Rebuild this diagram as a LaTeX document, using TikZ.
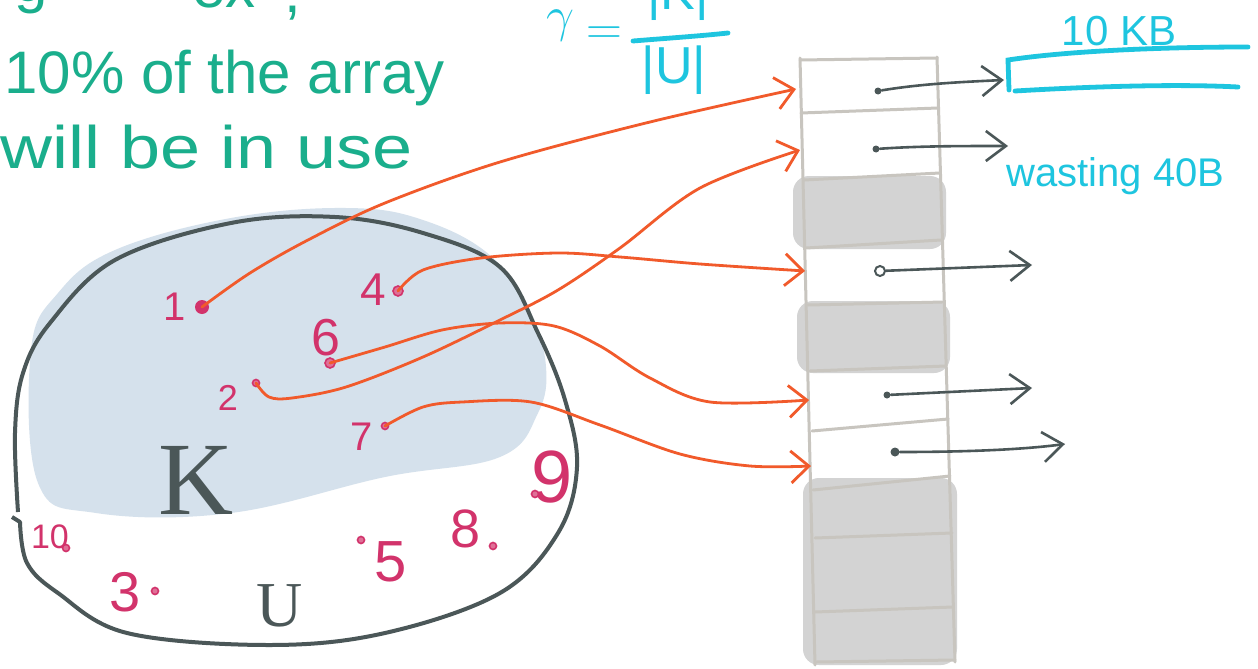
\documentclass[tikz,border=0pt]{standalone}
\usepackage{fontspec}
\setmainfont{Liberation Sans}
\newfontfamily\serifK{Liberation Serif}
\usetikzlibrary{arrows.meta}
\definecolor{grn}{HTML}{1AAE8C}
\definecolor{cyn}{HTML}{1EC5DF}
\definecolor{mag}{HTML}{D2336B}
\definecolor{org}{HTML}{F15A2B}
\definecolor{slate}{HTML}{4B5758}
\definecolor{kblue}{HTML}{D5E1EC}
\definecolor{cellgray}{HTML}{D3D3D3}
\definecolor{linegray}{HTML}{C8C5BF}
\tikzset{
  greentext/.style={text=grn, inner sep=0, anchor=base west, font=\fontsize{30}{30}\selectfont},
  cyantext/.style={text=cyn, inner sep=0, font=\fontsize{21}{21}\selectfont},
  num/.style={text=mag, inner sep=0},
  bigdot/.style={circle, fill=mag, inner sep=0, minimum size=7pt},
  smalldot/.style={circle, draw=mag, fill=mag!70, line width=0.8pt, inner sep=0, minimum size=3.5pt},
  pdot/.style={circle, fill=slate, inner sep=0, minimum size=3.5pt},
  oarrow/.style={draw=org, line width=1.4pt, line cap=round, -{Straight Barb[length=9pt,width=16pt,line width=1.4pt]}},
  parrow/.style={draw=slate, line width=1.3pt, line cap=round, -{Straight Barb[length=10pt,width=15pt,line width=1.3pt]}},
  gridline/.style={draw=linegray, line width=1.5pt, line cap=round},
  cyanline/.style={draw=cyn, line width=2.4pt, line cap=round},
  graycell/.style={fill=cellgray, rounded corners=8pt}
}
\begin{document}
\begin{tikzpicture}[x=0.5pt,y=-0.5pt]
\clip (0,0) rectangle (1258,669);
\fill[white] (0,0) rectangle (1258,669);

% ---- green text (top line is cut by the edge) ----
\node[greentext] (g0) at (14,2) {g};
\node[greentext] (g1) at (192,8) {ex};
\node[greentext] (g2) at (284,12) {,};
\node[greentext] (g3) at (335,0) {e};
\node[greentext] (t1) at (4,93) {10\% of the array};
\node[greentext, xscale=1.2] (t2) at (0,168) {will be in use};

% ---- gamma formula ----
\node[text=cyn, inner sep=0] (gam) at (560,26) {\fontsize{40}{40}\selectfont$\gamma$};
\node[text=cyn, inner sep=0] (eq) at (604,36) {\fontsize{30}{30}\selectfont$=$};
\node[text=cyn, inner sep=0, font=\fontsize{26}{26}\selectfont] (numk) at (678,-4) {|K|};
\node[text=cyn, inner sep=0, font=\fontsize{26}{26}\selectfont] (denu) at (674,70) {|U|};
\draw[cyanline] (633,41) .. controls (670,38) and (700,36) .. (728,33);

% ---- K region and U set ----
\fill[kblue] plot[smooth cycle, tension=0.65] coordinates {
 (31,350) (58,293) (115,250) (231,218) (346,208) (423,220) (492,257)
 (531,317) (546,367) (538,413) (500,457) (385,477) (231,513) (96,513) (38,483)};
\draw[slate, line width=2pt, line join=round] plot[smooth, tension=0.6] coordinates {
 (18,512) (15,433) (23,373) (50,323) (115,260) (231,223) (335,217) (423,233)
 (500,267) (538,333) (565,400) (577,467) (558,533) (500,593) (385,633)
 (269,645) (127,633) (58,593) (27,563) (20,522)} -- (12,517);
\node[text=slate, inner sep=0, font=\fontsize{52}{52}\selectfont\serifK] (K) at (196,480) {K};
\node[text=slate, inner sep=0, font=\fontsize{32}{32}\selectfont\serifK] (U) at (280,606) {U};

% ---- numbers ----
\node[num, font=\fontsize{20}{20}\selectfont] (n1) at (175,307) {1};
\node[bigdot] (d1) at (202,307) {};
\node[num, font=\fontsize{23}{23}\selectfont] (n4) at (373,290) {4};
\node[smalldot, minimum size=5pt] (d4) at (398,291) {};
\node[num, font=\fontsize{26}{26}\selectfont] (n6) at (326,338) {6};
\node[smalldot, minimum size=5pt] (d6) at (330,363) {};
\node[num, font=\fontsize{18}{18}\selectfont] (n2) at (228,398) {2};
\node[smalldot] (d2) at (256,383) {};
\node[num, font=\fontsize{20}{20}\selectfont] (n7) at (362,437) {7};
\node[smalldot] (d7) at (385,426) {};
\node[num, font=\fontsize{37}{37}\selectfont] (n9) at (552,477) {9};
\node[smalldot] (d9) at (535,494) {};
\node[num, font=\fontsize{27}{27}\selectfont] (n8) at (466,529) {8};
\node[smalldot] (d8) at (493,546) {};
\node[num, font=\fontsize{29}{29}\selectfont] (n5) at (391,562) {5};
\node[smalldot] (d5) at (361,540) {};
\node[num, font=\fontsize{28}{28}\selectfont] (n3) at (125,592) {3};
\node[smalldot] (d3) at (155,591) {};
\node[num, font=\fontsize{17}{17}\selectfont] (n10) at (50,537) {10};
\node[smalldot] (d10) at (66,548) {};

% ---- array ----
\fill[graycell] (793,176) rectangle (946,249);
\fill[graycell] (797,301) rectangle (950,373);
\fill[graycell] (803,478) rectangle (957,665);
\draw[gridline] (800,58) -- (815,665);
\draw[gridline] (937,57) -- (955,662);
\draw[gridline] (800,60) -- (937,58);
\draw[gridline] (801,113) -- (938,108);
\draw[gridline] (804,180) -- (940,173);
\draw[gridline] (806,248) -- (941,240);
\draw[gridline] (808,305) -- (944,302);
\draw[gridline] (810,371) -- (946,366);
\draw[gridline] (812,431) -- (948,419);
\draw[gridline] (813,490) -- (950,476);
\draw[gridline] (815,538) -- (952,533);
\draw[gridline] (815,612) -- (953,607);
\draw[gridline] (816,662) -- (955,660);

% entry points of the rows
\coordinate (a1) at (796,89);
\coordinate (a2) at (800,150);
\coordinate (a3) at (805,271);
\coordinate (a5) at (809,400);
\coordinate (a6) at (811,466);

% ---- orange connectors ----
\draw[oarrow] plot[smooth, tension=0.55] coordinates {(d1) (250,273) (308,240) (385,203) (500,162) (650,122) (a1)};
\draw[oarrow] plot[smooth, tension=0.55] coordinates {(d2) (269,397) (292,398) (346,387) (423,357) (500,320) (558,290) (620,248) (700,188) (a2)};
\draw[oarrow] plot[smooth, tension=0.55] coordinates {(d4) (423,270) (481,258) (558,253) (620,257) (700,264) (a3)};
\draw[oarrow] plot[smooth, tension=0.55] coordinates {(d6) (385,347) (442,330) (500,323) (554,326) (600,346) (650,378) (710,402) (a5)};
\draw[oarrow] plot[smooth, tension=0.55] coordinates {(d7) (423,407) (462,402) (531,402) (600,425) (680,454) (750,466) (a6)};

% ---- pointers ----
\node[pdot] (p1) at (878,91) {};
\node[pdot] (p2) at (876,149) {};
\node[circle, draw=slate, line width=1pt, inner sep=0, minimum size=5pt] (p3) at (880,271) {};
\node[pdot] (p5) at (887,395) {};
\node[pdot, minimum size=4.5pt] (p6) at (895,452) {};
\coordinate (q1) at (1004,80);
\coordinate (q2) at (1008,146);
\coordinate (q3) at (1032,265);
\coordinate (q5) at (1032,388);
\coordinate (q6) at (1065,444);
\draw[parrow] (p1) .. controls (920,84) and (960,82) .. (q1);
\draw[parrow] (p2) .. controls (920,146) and (960,146) .. (q2);
\draw[parrow] (p3) -- (q3);
\draw[parrow] (p5) -- (q5);
\draw[parrow] (p6) .. controls (960,452) and (1020,450) .. (q6);

% ---- cyan block ----
\coordinate (b1) at (1008,60);
\coordinate (b2) at (1248,47);
\coordinate (b4) at (1238,87);
\draw[cyanline] (b2) .. controls (1150,47) and (1060,52) .. (b1) -- (1009,90);
\draw[cyanline] (1015,91) .. controls (1100,86) and (1180,84) .. (b4);
\node[cyantext] (kb) at (1119,31) {10 KB};
\node[cyantext, anchor=base west, font=\fontsize{20}{20}\selectfont] (waste) at (1006,186) {wasting 40B};
\end{tikzpicture}
\end{document}
